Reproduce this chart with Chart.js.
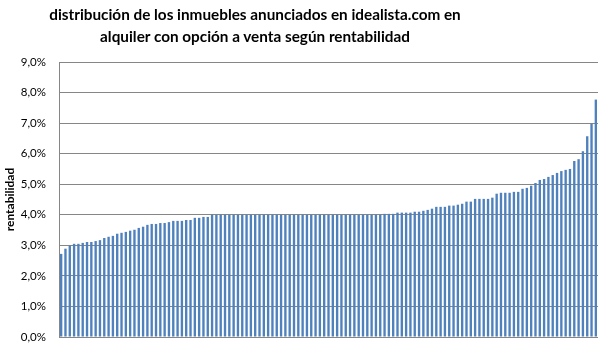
<!DOCTYPE html>
<html>
<head>
<meta charset="utf-8">
<script src="https://cdn.jsdelivr.net/npm/chart.js@4/dist/chart.umd.min.js"></script>
<style>
  body { margin: 0; background: #fff; }
  #wrap { position: relative; width: 608px; height: 348px; }
  #titulo {
    position: absolute; left: 0; top: 3px; width: 510px;
    text-align: center; font: bold 15.3px Lato, "Open Sans", sans-serif;
    line-height: 22px; color: #000;
  }
  canvas { position: absolute; left: 0; top: 0; }
</style>
</head>
<body>
<div id="wrap">
  <canvas id="myChart" width="608" height="348"></canvas>
  <div id="titulo">distribución de los inmuebles anunciados en idealista.com en<br>alquiler con opción a venta según rentabilidad</div>
</div>
<script>
// rentabilidad (%) de cada inmueble, ordenados de menor a mayor
var rentabilidad = [
  2.72, 2.89, 2.99, 3.05, 3.05, 3.08, 3.11, 3.11, 3.14, 3.17,
  3.24, 3.28, 3.31, 3.38, 3.41, 3.44, 3.48, 3.51, 3.57, 3.61,
  3.67, 3.70, 3.70, 3.73, 3.73, 3.76, 3.80, 3.80, 3.80, 3.83,
  3.83, 3.90, 3.90, 3.93, 3.93,
  4.00, 4.00, 4.00, 4.00, 4.00, 4.00, 4.00, 4.00, 4.00, 4.00,
  4.00, 4.00, 4.00, 4.00, 4.00, 4.00, 4.00, 4.00, 4.00, 4.00,
  4.00, 4.00, 4.00, 4.00, 4.00, 4.00, 4.00, 4.00, 4.00, 4.00,
  4.00, 4.00, 4.00, 4.00, 4.00, 4.00, 4.00,
  4.00, 4.00, 4.00, 4.03, 4.03, 4.03, 4.07, 4.07, 4.07, 4.07,
  4.10, 4.10, 4.13, 4.16, 4.20, 4.26, 4.26, 4.26, 4.30, 4.30,
  4.33, 4.36, 4.43, 4.43, 4.52, 4.52, 4.52, 4.52,
  4.56, 4.69, 4.72, 4.72, 4.72, 4.75, 4.75, 4.85, 4.88, 4.95,
  5.04, 5.14, 5.17, 5.24, 5.30, 5.37, 5.43, 5.47, 5.50, 5.76,
  5.82, 6.08, 6.57, 6.98, 7.77
];
// inmuebles (sin etiqueta en el eje)
var inmuebles = rentabilidad.map(function(v, i) { return String(i + 1); });

var yMin = 0, yMax = 9, yStep = 1;
var gris = '#868686';

const ctx = document.getElementById('myChart').getContext('2d');
const myChart = new Chart(ctx, {
  type: 'bar',
  data: {
    labels: inmuebles,
    datasets: [{
      label: 'rentabilidad',
      data: rentabilidad,
      backgroundColor: '#4F81BD',
      borderWidth: 0,
      barPercentage: 0.55,
      categoryPercentage: 1
    }]
  },
  options: {
    responsive: false,
    animation: false,
    layout: { padding: { top: 62, right: 10, bottom: 11, left: 0 } },
    plugins: {
      legend: { display: false },
      tooltip: { enabled: false },
      title: { display: false }
    },
    scales: {
      x: {
        display: false
      },
      y: {
        min: yMin,
        max: yMax,
        ticks: {
          stepSize: yStep,
          padding: 13,
          color: '#000',
          font: { family: 'Lato, "Open Sans", sans-serif', size: 11.5 },
          callback: function(v) { return v.toFixed(1).replace('.', ',') + '%'; }
        },
        grid: { color: gris, lineWidth: 1, drawTicks: false },
        border: { display: true, color: gris, width: 1 },
        title: {
          display: true,
          text: 'rentabilidad',
          color: '#000',
          font: { family: 'Lato, "Open Sans", sans-serif', size: 12, weight: 'bold' },
          padding: 3
        },
        afterFit: function(s) {
          s.width = 59;
          s.paddingTop = 0;
          s.paddingBottom = 0;
        }
      }
    }
  }
});
</script>
</body>
</html>
